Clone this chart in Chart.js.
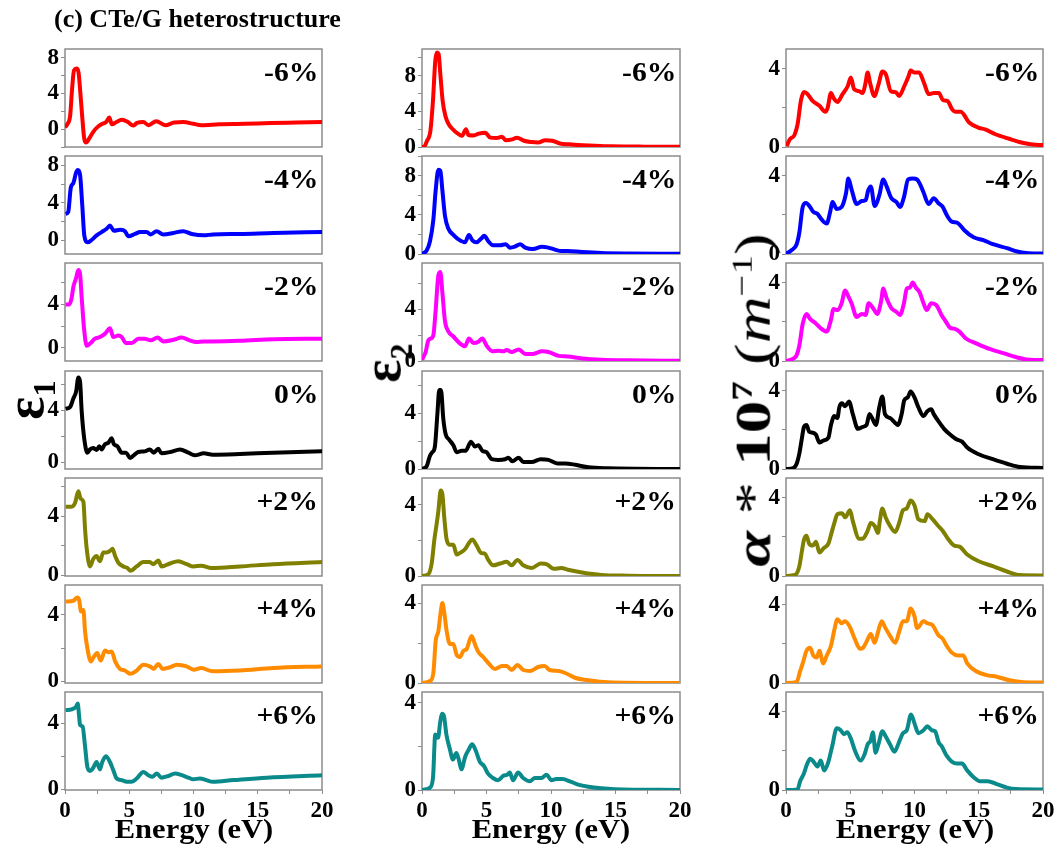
<!DOCTYPE html>
<html>
<head>
<meta charset="utf-8">
<script src="https://cdn.jsdelivr.net/npm/chart.js@4.4.1/dist/chart.umd.min.js"></script>
<style>
  body { margin:0; background:#fff; width:1062px; height:855px; position:relative; overflow:hidden;
         font-family:'Liberation Serif','Times New Roman',Tinos,serif; }
  canvas { position:absolute; }
  .t { position:absolute; font-weight:bold; white-space:nowrap; color:#000; line-height:1; }
</style>
</head>
<body>
<script>
// strain labels and line colours, top to bottom
const strains = ['-6%', '-4%', '-2%', '0%', '+2%', '+4%', '+6%'];
const colors = ['#ff0000', '#0000ff', '#ff00ff', '#000000', '#808000', '#ff8c00', '#0a8a8a'];
const energyTicks = [0, 5, 10, 15, 20];

// y ranges per row
const eps1Range = [[-2,9],[-1.5,9],[-1.2,7.8],[-0.5,7],[-0.05,6.6],[-0.1,5.8],[-0.05,5.9]];
const eps2Range = [[0,11],[0,10],[0,7.6],[0,7],[0,5.5],[0,4.9],[0,4.5]];
const alphaRange = [[0,5],[0,5],[0,5],[0,5],[0,5],[0,5],[0,5]];

// epsilon_1 [energy eV, value]
const eps1_m6 = [[0,0.2],[0.2,0.6],[0.4,1.5],[0.55,4.5],[0.7,6.6],[0.9,6.8],[1.05,6.4],[1.2,4.0],[1.35,1.2],[1.5,-1.1],[1.65,-1.5],[1.9,-1.0],[2.2,-0.3],[2.5,0.2],[2.9,0.6],[3.2,0.8],[3.45,1.3],[3.65,0.55],[4.0,0.8],[4.4,1.05],[4.9,0.8],[5.3,0.4],[5.6,0.7],[6.1,0.8],[6.5,0.45],[7.1,0.9],[7.8,0.45],[8.5,0.75],[9.2,0.8],[10,0.6],[10.6,0.45],[12,0.55],[14,0.6],[16,0.7],[18,0.75],[20,0.8]];
const eps1_m4 = [[0.05,2.8],[0.25,3.0],[0.45,5.6],[0.65,6.1],[0.86,7.2],[1.0,7.5],[1.17,7.0],[1.35,3.6],[1.5,0.5],[1.76,-0.25],[2.07,0],[2.46,0.5],[2.85,0.85],[3.24,1.2],[3.5,1.55],[3.8,1.0],[4.3,1.1],[4.67,0.95],[4.93,0.4],[5.45,0.65],[5.84,0.85],[6.36,0.85],[6.67,0.6],[7.13,0.95],[7.65,0.6],[8.43,0.75],[9.2,0.95],[9.86,0.65],[10.8,0.5],[11.5,0.6],[13.6,0.65],[16.2,0.75],[20,0.85]];
const eps1_m2 = [[0.05,4.0],[0.34,4.0],[0.52,4.6],[0.65,5.6],[0.86,6.4],[1.04,7.15],[1.17,6.8],[1.3,4.6],[1.48,1.8],[1.69,0.2],[1.95,0.4],[2.33,0.85],[2.72,1.0],[3.11,1.3],[3.5,1.8],[3.76,1.0],[4.15,1.15],[4.41,1.0],[4.75,0.45],[5.2,0.45],[5.7,0.85],[6.2,0.85],[6.67,0.7],[7.2,0.95],[7.65,0.6],[8.43,0.75],[9.08,0.95],[9.7,0.7],[10.2,0.55],[10.8,0.6],[11.5,0.6],[13.6,0.65],[16.2,0.8],[20,0.85]];
const eps1_0 = [[0.05,4.1],[0.4,4.25],[0.65,4.9],[0.86,5.4],[1.04,6.5],[1.17,6.2],[1.3,3.9],[1.5,1.8],[1.74,0.75],[1.95,1.0],[2.2,1.1],[2.46,0.95],[2.67,1.25],[2.85,1.0],[3.11,1.4],[3.37,1.5],[3.63,1.85],[3.8,1.4],[4.07,1.25],[4.41,0.75],[4.75,0.75],[5.06,0.35],[5.3,0.5],[5.7,0.8],[6.2,0.85],[6.6,1.0],[6.9,0.75],[7.26,1.05],[7.5,0.7],[8.2,0.8],[8.95,1.0],[9.6,0.75],[10.1,0.55],[10.8,0.7],[11.5,0.6],[13.6,0.65],[16.2,0.75],[20,0.85]];
const eps1_p2 = [[0.05,4.65],[0.52,4.65],[0.78,4.9],[1.04,5.7],[1.22,5.2],[1.43,5.0],[1.56,3.15],[1.69,1.8],[1.95,0.6],[2.2,1.1],[2.46,1.3],[2.72,0.95],[2.98,1.55],[3.24,1.55],[3.5,1.65],[3.7,1.8],[3.9,1.3],[4.15,0.85],[4.54,0.6],[4.85,0.5],[5.1,0.3],[5.58,0.6],[6.1,0.9],[6.6,0.9],[6.87,0.75],[7.26,1.0],[7.52,0.6],[8.17,0.8],[8.82,0.95],[9.47,0.75],[10,0.6],[10.6,0.65],[11.4,0.5],[13.6,0.6],[16.2,0.75],[20,0.9]];
const eps1_p4 = [[0.05,4.8],[0.65,4.85],[0.96,5.05],[1.1,4.9],[1.25,4.2],[1.43,4.3],[1.56,3.0],[1.74,2.0],[2.0,1.2],[2.26,1.5],[2.5,1.7],[2.78,1.25],[3.11,1.85],[3.37,1.75],[3.63,1.8],[3.9,1.2],[4.28,0.75],[4.67,0.65],[5.1,0.45],[5.58,0.65],[6.1,1.0],[6.6,0.9],[6.9,0.75],[7.26,1.05],[7.6,0.75],[8.17,0.85],[8.7,1.0],[9.47,0.9],[10,0.7],[10.6,0.8],[11.5,0.6],[13.6,0.65],[16.2,0.8],[20,0.9]];
const eps1_p6 = [[0.05,4.8],[0.52,4.85],[0.86,5.0],[0.99,5.2],[1.09,4.5],[1.17,3.9],[1.37,3.8],[1.56,2.6],[1.74,1.35],[1.95,1.1],[2.2,1.3],[2.46,1.65],[2.72,1.2],[2.9,1.65],[3.19,2.0],[3.5,1.65],[3.76,1.15],[4.02,0.65],[4.41,0.55],[4.8,0.45],[5.19,0.45],[5.58,0.65],[6.1,1.05],[6.48,0.85],[6.8,0.75],[7.15,0.95],[7.5,0.7],[8.04,0.8],[8.56,0.95],[9.08,0.85],[9.6,0.7],[10,0.6],[10.5,0.65],[11,0.55],[11.5,0.45],[13.1,0.55],[15.7,0.7],[20,0.85]];

// epsilon_2
const eps2_m6 = [[0,0],[0.13,0],[0.39,0.7],[0.65,1.8],[0.85,5.2],[1.03,9.7],[1.16,10.6],[1.29,10.45],[1.42,8.2],[1.6,5.2],[1.81,3.5],[2.07,2.55],[2.45,1.9],[2.84,1.45],[3.1,1.25],[3.41,2.0],[3.6,1.35],[4.0,1.3],[4.4,1.5],[4.9,1.6],[5.3,1.05],[5.8,1.0],[6.2,1.15],[6.5,0.75],[7.0,0.85],[7.36,1.05],[7.9,0.7],[8.5,0.55],[9.0,0.5],[9.56,0.75],[10.1,0.7],[10.7,0.4],[11.4,0.3],[12.1,0.22],[13.4,0.15],[14.7,0.08],[17.3,0.04],[20,0.03]];
const eps2_m4 = [[0,0],[0.36,0.35],[0.62,1.3],[0.88,3.5],[1.06,6.5],[1.27,8.6],[1.42,8.5],[1.58,6.5],[1.78,3.9],[2.04,2.6],[2.43,1.95],[2.82,1.5],[3.33,1.2],[3.64,1.95],[3.9,1.4],[4.24,1.2],[4.57,1.55],[4.83,1.85],[5.14,1.3],[5.5,0.9],[6.05,0.9],[6.5,1.0],[6.8,0.65],[7.2,0.75],[7.6,1.0],[8.0,0.65],[8.6,0.5],[9.3,0.75],[9.8,0.65],[10.3,0.45],[10.8,0.3],[11.3,0.3],[12.4,0.2],[13.9,0.1],[16,0.05],[20,0.02]];
const eps2_m2 = [[0,0.1],[0.28,0.7],[0.49,1.6],[0.7,1.75],[0.88,2.0],[1.06,3.95],[1.27,6.65],[1.42,6.9],[1.58,5.3],[1.78,3.1],[2.04,2.3],[2.43,1.9],[2.95,1.35],[3.33,1.15],[3.64,1.75],[3.98,1.4],[4.37,1.5],[4.68,1.75],[5.0,1.2],[5.45,0.75],[5.9,0.8],[6.3,0.75],[6.56,0.85],[6.95,0.7],[7.5,0.9],[8.0,0.55],[8.6,0.55],[9.3,0.75],[9.8,0.7],[10.6,0.4],[11.3,0.35],[12.4,0.2],[13.9,0.1],[16,0.05],[20,0.02]];
const eps2_0 = [[0,0],[0.36,0.2],[0.62,0.95],[0.8,1.2],[1.0,1.6],[1.19,3.9],[1.34,5.65],[1.47,5.65],[1.65,3.6],[1.83,2.5],[2.1,2.1],[2.43,1.7],[2.69,1.2],[3.07,1.3],[3.38,1.3],[3.8,1.95],[4.1,1.6],[4.37,1.7],[4.68,1.3],[5.0,1.2],[5.4,0.7],[5.9,0.65],[6.45,0.7],[6.7,0.8],[7.0,0.55],[7.5,0.8],[7.85,0.5],[8.5,0.5],[9.2,0.7],[9.8,0.65],[10.5,0.4],[11.1,0.4],[11.9,0.3],[12.9,0.12],[14.4,0.05],[20,0]];
const eps2_p2 = [[0,0],[0.49,0.1],[0.75,0.7],[0.96,2.05],[1.14,2.95],[1.27,3.65],[1.45,4.8],[1.58,4.6],[1.73,3.25],[1.91,2.05],[2.17,1.75],[2.43,1.75],[2.69,1.2],[2.95,1.3],[3.33,1.5],[3.64,1.85],[3.9,2.05],[4.24,1.7],[4.57,1.3],[4.88,1.25],[5.14,0.9],[5.5,0.6],[6.05,0.7],[6.56,0.8],[6.95,0.6],[7.4,0.9],[7.85,0.6],[8.5,0.45],[9.2,0.7],[9.7,0.65],[10.2,0.4],[10.8,0.45],[11.3,0.35],[12.4,0.2],[13.9,0.06],[16,0.02],[20,0]];
const eps2_p4 = [[0,0],[0.62,0.1],[0.88,0.5],[1.06,2.1],[1.27,2.6],[1.45,3.55],[1.58,4.0],[1.73,3.5],[1.91,2.6],[2.17,1.95],[2.43,1.95],[2.69,1.4],[2.95,1.3],[3.2,1.6],[3.46,1.7],[3.85,2.35],[4.1,1.95],[4.37,1.55],[4.75,1.3],[5.14,1.0],[5.65,0.7],[6.2,0.85],[6.56,0.85],[6.95,0.65],[7.4,0.9],[7.85,0.65],[8.4,0.6],[9.0,0.8],[9.5,0.85],[9.9,0.65],[10.6,0.6],[11.1,0.5],[11.9,0.25],[12.8,0.15],[14.4,0.04],[20,0]];
const eps2_p6 = [[0,0],[0.6,0.1],[0.85,0.55],[1.03,2.55],[1.24,2.4],[1.42,3.15],[1.55,3.5],[1.7,3.4],[1.89,2.55],[2.15,1.9],[2.4,1.4],[2.66,1.7],[2.85,1.4],[3.05,0.95],[3.36,1.55],[3.62,1.85],[3.88,2.1],[4.14,1.85],[4.48,1.3],[4.81,1.1],[5.12,0.75],[5.5,0.55],[5.9,0.45],[6.3,0.65],[6.6,0.7],[6.8,0.8],[7.06,0.45],[7.45,0.8],[7.84,0.55],[8.36,0.4],[8.75,0.55],[9.26,0.55],[9.65,0.7],[10.04,0.45],[10.4,0.5],[10.9,0.5],[11.46,0.4],[12.1,0.25],[12.9,0.15],[13.9,0.08],[14.95,0.04],[20,0]];

// absorption alpha * 1e7
const alpha_m6 = [[0.05,0.05],[0.31,0.4],[0.65,0.6],[0.9,1.15],[1.17,2.4],[1.42,2.8],[1.68,2.7],[2.07,2.35],[2.6,2.1],[3.06,1.8],[3.24,2.0],[3.5,2.75],[3.7,2.5],[4.0,2.3],[4.4,2.7],[4.8,3.1],[5.05,3.55],[5.3,2.95],[5.7,2.85],[5.96,2.75],[6.17,3.2],[6.35,3.8],[6.55,3.25],[6.87,2.6],[7.2,3.2],[7.5,3.85],[7.77,3.7],[8.16,2.85],[8.55,2.8],[8.8,2.6],[9.2,3.1],[9.53,3.6],[9.7,3.9],[9.97,3.8],[10.36,3.8],[10.75,3.25],[11.1,2.7],[11.5,2.75],[11.9,2.75],[12.2,2.4],[12.56,2.35],[12.95,1.9],[13.2,1.8],[13.6,1.8],[14.25,1.25],[15.0,0.98],[15.5,0.9],[16.3,0.65],[17.36,0.42],[18.4,0.22],[19.2,0.13],[20,0.1]];
const alpha_m4 = [[0,0],[0.44,0.2],[0.83,0.5],[1.04,1.1],[1.3,2.4],[1.56,2.6],[1.87,2.4],[2.13,2.15],[2.44,2.05],[2.78,1.75],[3.17,1.55],[3.42,2.1],[3.63,2.65],[3.94,2.3],[4.33,2.4],[4.67,3.1],[4.85,3.85],[5.1,3.3],[5.5,2.55],[5.9,2.7],[6.2,2.75],[6.4,3.25],[6.6,3.45],[6.9,2.45],[7.26,3.0],[7.57,3.8],[7.83,3.45],[8.2,2.85],[8.6,2.65],[8.87,2.4],[9.18,2.9],[9.5,3.8],[9.86,3.85],[10.2,3.8],[10.4,3.6],[10.7,3.15],[11.1,2.55],[11.5,2.85],[11.85,2.6],[12.2,2.4],[12.5,2.0],[12.9,1.65],[13.3,1.6],[13.5,1.5],[13.9,1.2],[14.6,0.85],[15.4,0.7],[16.1,0.5],[17.2,0.3],[18,0.13],[18.7,0.05],[20,0.02]];
const alpha_m2 = [[0,0],[0.57,0.12],[0.83,0.3],[1.04,0.8],[1.3,1.9],[1.6,2.4],[1.87,2.15],[2.26,1.95],[2.65,1.7],[3.17,1.5],[3.48,2.05],[3.7,2.65],[4.0,2.6],[4.33,2.95],[4.6,3.6],[4.85,3.3],[5.1,2.95],[5.5,2.25],[5.9,2.4],[6.2,2.35],[6.43,2.95],[6.87,2.6],[7.1,2.4],[7.4,3.05],[7.57,3.7],[7.83,3.2],[8.2,2.7],[8.6,2.5],[8.87,2.35],[9.18,2.95],[9.4,3.7],[9.65,3.75],[9.86,4.0],[10.1,3.75],[10.4,3.5],[10.7,2.95],[10.95,2.6],[11.3,2.95],[11.7,2.85],[12.1,2.35],[12.4,2.05],[12.76,1.7],[13.1,1.65],[13.5,1.5],[14.0,1.15],[14.8,0.9],[15.9,0.6],[16.9,0.4],[18.0,0.18],[18.7,0.08],[20,0.05]];
const alpha_0 = [[0,0],[0.57,0.05],[0.83,0.27],[1.04,0.8],[1.22,1.5],[1.4,2.15],[1.6,2.25],[1.8,1.9],[2.08,1.85],[2.33,1.75],[2.6,1.35],[2.9,1.45],[3.3,1.6],[3.5,2.25],[3.76,2.7],[4.0,2.6],[4.15,3.15],[4.36,3.35],[4.6,3.2],[4.9,3.45],[5.2,2.8],[5.6,2.05],[5.97,2.15],[6.27,2.25],[6.5,2.8],[6.7,2.6],[7.0,2.25],[7.26,3.15],[7.5,3.7],[7.7,2.8],[8.1,2.6],[8.5,2.35],[8.7,2.25],[9.0,2.8],[9.2,3.5],[9.47,3.65],[9.7,3.95],[10.0,3.65],[10.3,3.15],[10.7,2.7],[11.0,2.95],[11.3,3.05],[11.5,2.8],[11.9,2.4],[12.3,2.05],[12.7,1.8],[13.3,1.5],[13.7,1.4],[14.1,1.1],[15.0,0.75],[16.1,0.5],[17.2,0.27],[18.2,0.1],[20,0.05]];
const alpha_p2 = [[0,0],[0.7,0.05],[1.04,0.5],[1.22,1.2],[1.4,1.85],[1.6,2.05],[1.8,1.65],[2.08,1.55],[2.33,1.75],[2.6,1.2],[2.9,1.4],[3.3,1.65],[3.5,2.1],[3.76,2.7],[4.0,3.15],[4.36,3.2],[4.6,3.0],[4.98,3.35],[5.2,2.8],[5.7,1.9],[5.97,1.9],[6.35,2.3],[6.6,2.7],[6.9,2.55],[7.16,2.2],[7.3,2.8],[7.5,3.45],[7.75,3.0],[8.1,2.55],[8.5,2.25],[8.8,2.7],[9.1,3.35],[9.4,3.45],[9.7,3.85],[10.0,3.6],[10.3,2.9],[10.8,2.8],[11.0,3.15],[11.4,2.9],[11.85,2.55],[12.2,2.3],[12.6,1.9],[13.1,1.55],[13.5,1.5],[14.1,1.1],[15.0,0.75],[16.1,0.5],[17.2,0.23],[18.2,0.05],[20,0.03]];
const alpha_p4 = [[0,0],[0.83,0.05],[1.1,0.6],[1.3,1.0],[1.6,1.65],[1.87,1.8],[2.13,1.4],[2.4,1.3],[2.6,1.65],[2.9,1.0],[3.17,1.4],[3.5,1.9],[3.76,2.7],[4.0,3.25],[4.33,3.05],[4.6,3.15],[4.98,2.85],[5.35,2.25],[5.75,1.75],[6.0,1.8],[6.3,2.15],[6.6,2.5],[6.9,2.05],[7.16,2.6],[7.45,3.15],[7.7,2.85],[8.1,2.4],[8.5,2.05],[8.8,2.6],[9.1,3.15],[9.4,3.15],[9.7,3.8],[10.0,3.4],[10.2,2.8],[10.7,3.15],[11.0,3.05],[11.4,2.95],[11.85,2.45],[12.2,2.25],[12.5,1.9],[12.9,1.55],[13.4,1.4],[13.8,1.4],[14.1,1.0],[14.8,0.6],[15.6,0.4],[16.4,0.32],[17.4,0.14],[18.5,0.04],[20,0.02]];
const alpha_p6 = [[0,0],[0.9,0.03],[1.1,0.45],[1.37,0.8],[1.63,1.3],[1.88,1.6],[2.14,1.45],[2.45,1.2],[2.7,1.5],[2.97,1.0],[3.28,1.4],[3.6,2.25],[3.95,3.15],[4.26,3.05],[4.5,2.85],[4.77,2.95],[5.03,2.65],[5.4,1.95],[5.8,1.5],[6.1,1.8],[6.37,2.35],[6.58,2.5],[6.76,2.95],[6.97,1.9],[7.2,2.35],[7.5,3.0],[7.74,2.75],[8.08,2.35],[8.44,1.95],[8.77,2.4],[9.1,2.9],[9.4,3.05],[9.73,3.85],[10.0,3.4],[10.3,2.9],[10.7,3.05],[11.0,3.25],[11.35,3.05],[11.6,3.0],[11.9,2.4],[12.1,2.25],[12.5,1.75],[12.9,1.45],[13.3,1.35],[13.7,1.35],[14.1,1.0],[14.6,0.65],[15.1,0.45],[15.7,0.45],[16.4,0.3],[17.2,0.12],[17.9,0.05],[20,0.03]];

const columns = [
  { left: 65,  w: 257, ranges: eps1Range,  series: [eps1_m6, eps1_m4, eps1_m2, eps1_0, eps1_p2, eps1_p4, eps1_p6] },
  { left: 422, w: 258, ranges: eps2Range,  series: [eps2_m6, eps2_m4, eps2_m2, eps2_0, eps2_p2, eps2_p4, eps2_p6] },
  { left: 786, w: 257, ranges: alphaRange, series: [alpha_m6, alpha_m4, alpha_m2, alpha_0, alpha_p2, alpha_p4, alpha_p6] }
];

const ROW0 = 49, ROWSTEP = 107.2, PLOT_H = 98;
const WY = 60, PR = 22, PT = 18;
const tickFont = { family: "'Liberation Serif', 'Times New Roman', Tinos, serif", size: 23, weight: 'bold' };

const boxPlugin = {
  id: 'box',
  beforeDatasetsDraw(chart) {
    const { left, top, right, bottom } = chart.chartArea;
    const ctx = chart.ctx;
    ctx.save();
    ctx.strokeStyle = '#8c8c8c';
    ctx.lineWidth = 1.5;
    ctx.strokeRect(left, top, right - left, bottom - top);
    ctx.restore();
  }
};

function label(html, css) {
  const d = document.createElement('div');
  d.className = 't';
  d.innerHTML = html;
  Object.assign(d.style, css);
  document.body.appendChild(d);
  return d;
}

columns.forEach((col, c) => {
  col.series.forEach((pts, r) => {
    const bottomRow = r === strains.length - 1;
    const top = Math.round(ROW0 + ROWSTEP * r);
    const HX = bottomRow ? 45 : 18;
    const cv = document.createElement('canvas');
    cv.width = WY + col.w + PR;
    cv.height = PT + PLOT_H + HX;
    cv.style.left = (col.left - WY) + 'px';
    cv.style.top = (top - PT) + 'px';
    document.body.appendChild(cv);

    new Chart(cv, {
      type: 'line',
      data: {
        datasets: [{
          data: pts.map(p => ({ x: p[0], y: p[1] })),
          borderColor: colors[r],
          borderWidth: 4,
          pointRadius: 0,
          cubicInterpolationMode: 'monotone',
          fill: false
        }]
      },
      options: {
        responsive: false,
        animation: false,
        devicePixelRatio: 1,
        layout: { padding: { top: PT, right: PR, left: 0, bottom: 0 } },
        plugins: { legend: { display: false }, tooltip: { enabled: false } },
        scales: {
          x: {
            type: 'linear', min: 0, max: 20,
            ticks: {
              stepSize: 2.5, display: bottomRow, autoSkip: false, maxRotation: 0,
              includeBounds: false, padding: 3, color: '#000', font: tickFont,
              callback: v => (energyTicks.includes(v) ? String(v) : '')
            },
            grid: { drawOnChartArea: false, drawTicks: bottomRow, tickLength: 4, color: '#8c8c8c' },
            border: { display: false },
            afterFit: s => { s.height = HX; s.paddingLeft = 0; s.paddingRight = 0; }
          },
          y: {
            min: col.ranges[r][0], max: col.ranges[r][1],
            ticks: {
              stepSize: 2, autoSkip: false, includeBounds: false, padding: 2,
              color: '#000', font: tickFont,
              callback: v => (Math.abs(v % 4) < 1e-9 ? String(v) : '')
            },
            grid: { drawOnChartArea: false, tickLength: 4, color: '#8c8c8c' },
            border: { display: false },
            afterFit: s => { s.width = WY; s.paddingTop = 0; s.paddingBottom = 0; }
          }
        }
      },
      plugins: [boxPlugin]
    });

    // strain label inside the panel, top right
    label(strains[r], {
      right: (1062 - (col.left + col.w - 4)) + 'px',
      top: (top + 10) + 'px',
      fontSize: '27px',
      transform: 'scaleX(1.1)',
      transformOrigin: 'right center'
    });

    if (bottomRow) {
      label('Energy (eV)', {
        left: (col.left + col.w / 2) + 'px',
        top: '815px',
        fontSize: '28px',
        transform: 'translateX(-50%) scaleX(1.09)'
      });
    }
  });
});

// figure title and y-axis titles
label('(c) CTe/G heterostructure', { left: '54px', top: '6px', fontSize: '25px', transform: 'scaleX(1.04)', transformOrigin: 'left center' });
label('&epsilon;<sub style="font-size:0.6em">1</sub>', {
  left: '29px', top: '400px', fontSize: '54px',
  transform: 'translate(-50%,-50%) rotate(-90deg)'
});
label('&epsilon;<sub style="font-size:0.6em">2</sub>', {
  left: '386px', top: '363px', fontSize: '54px',
  transform: 'translate(-50%,-50%) rotate(-90deg)'
});
label('<i>&alpha;</i> <span style="font-weight:normal">*</span> 10<sup style="font-size:0.6em">7</sup> <span style="font-weight:normal">(<i>m</i><sup style="font-size:0.6em">&minus;1</sup>)</span>', {
  left: '752px', top: '400px', fontSize: '50px',
  transform: 'translate(-50%,-50%) rotate(-90deg) scaleX(1.3)'
});
</script>
</body>
</html>
